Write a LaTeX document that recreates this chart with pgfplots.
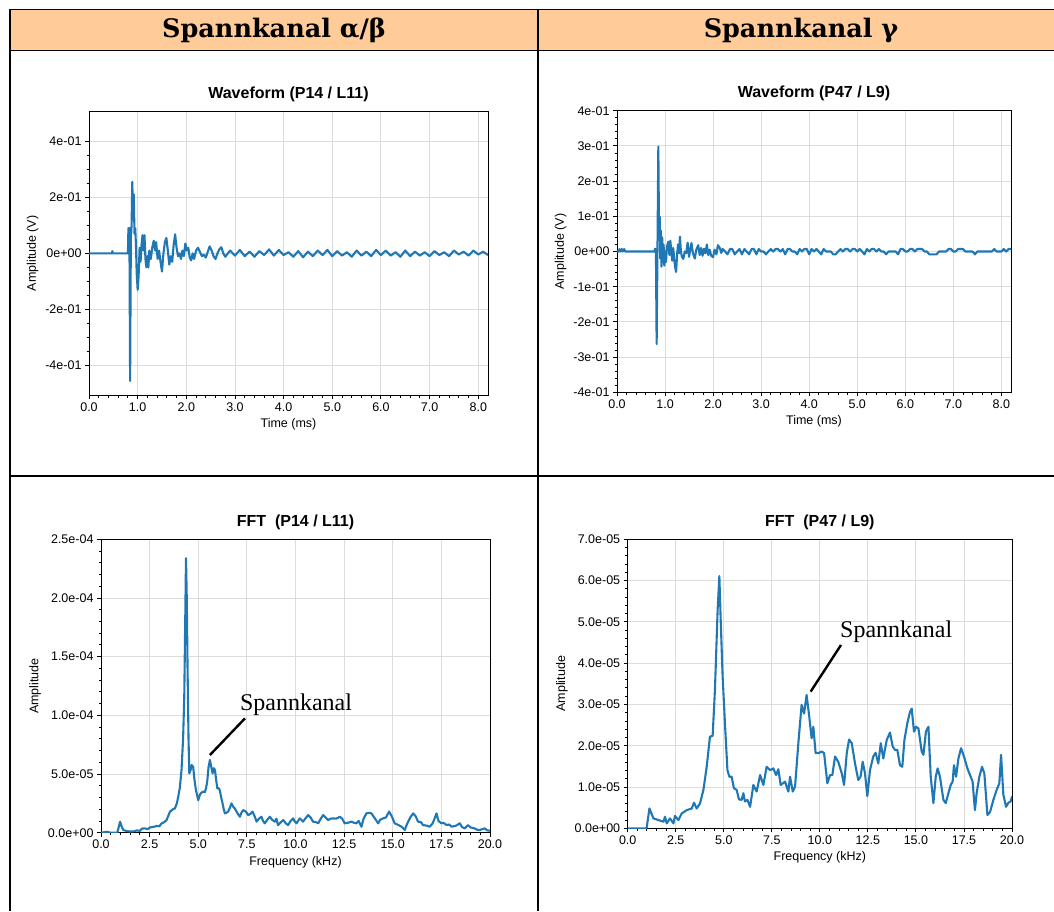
\documentclass[border=0pt]{standalone}
\usepackage{fontspec}
\setmainfont{Liberation Sans}
\newfontfamily\headfont{DejaVu Serif}
\newfontfamily\notefont{Liberation Serif}
\usepackage{pgfplots}
\pgfplotsset{compat=1.18}

\definecolor{mplblue}{HTML}{1F77B4}
\definecolor{headbg}{HTML}{FFCC99}
\definecolor{gridgray}{HTML}{DCDCDC}

\tikzset{
  callout/.style={anchor=west, inner sep=0pt, font=\notefont\fontsize{24}{28}\selectfont},
  trace/.style={mplblue, line width=2.1pt, line join=round, mark=none},
  pointer/.style={black, line width=2.4pt},
}

\pgfplotsset{
  panel/.style={
    scale only axis,
    axis line style={black, line width=0.9pt},
    tick align=outside,
    tick pos=left,
    major tick length=4pt,
    minor tick length=2.5pt,
    tick style={black, line width=0.9pt},
    grid=major,
    major grid style={gridgray, line width=0.9pt},
    tick label style={font=\fontsize{12.5}{14}\selectfont},
    label style={font=\fontsize{12.5}{14}\selectfont},
    title style={font=\bfseries\fontsize{16}{19}\selectfont},
  },
  wave/.style={
    panel,
    xmin=0, xmax=8.2,
    xtick={0,1,...,8},
    xticklabels={0.0,1.0,2.0,3.0,4.0,5.0,6.0,7.0,8.0},
    minor x tick num=4,
    xlabel={Time (ms)},
    ylabel={Amplitude (V)},
  },
  spec/.style={
    panel,
    xmin=0, xmax=20,
    xtick={0,2.5,...,20},
    xticklabels={0.0,2.5,5.0,7.5,10.0,12.5,15.0,17.5,20.0},
    minor x tick num=4,
    xlabel={Frequency (kHz)},
    ylabel={Amplitude},
    ymin=0,
  },
}

% waveform, channel alpha/beta (time in ms, amplitude in V)
\pgfplotstableread{
t v
0.00 0
0.47 0
0.48 0.008
0.49 0
0.80 0
0.81 0.09
0.82 0.08
0.83 0.09
0.845 -0.455
0.86 0.05
0.875 0.10
0.89 0.255
0.905 0.12
0.92 0.21
0.935 0.07
0.95 0.09
0.965 0.03
0.98 -0.07
1.00 -0.13
1.02 -0.08
1.04 0.02
1.06 -0.03
1.08 0.03
1.10 0.065
1.12 0.01
1.14 0.065
1.16 -0.02
1.18 -0.05
1.20 -0.01
1.22 -0.05
1.24 0.01
1.27 -0.02
1.30 0.02
1.33 0.045
1.36 0.01
1.38 0.04
1.41 -0.02
1.44 0.01
1.47 -0.03
1.50 -0.065
1.53 0.00
1.56 0.04
1.59 0.055
1.62 0.01
1.65 -0.04
1.68 -0.01
1.71 -0.03
1.74 0.03
1.77 0.068
1.80 0.02
1.83 -0.01
1.86 0.00
1.89 -0.02
1.92 0.01
1.95 -0.01
1.98 0.035
2.01 0.01
2.04 0.02
2.07 -0.015
2.10 -0.025
2.13 0.00
2.16 -0.02
2.20 0.01
2.24 0.02
2.28 0.005
2.32 -0.01
2.36 -0.005
2.40 -0.015
2.44 0.005
2.48 0.025
2.52 0.01
2.56 -0.01
2.60 -0.02
2.64 0.00
2.68 0.015
2.72 0.022
2.76 0.00
2.80 -0.012
2.90 0.010
3.00 -0.008
3.10 0.012
3.20 -0.010
3.30 0.006
3.40 -0.012
3.50 0.008
3.60 -0.006
3.70 0.014
3.80 -0.008
3.90 0.012
4.00 -0.006
4.10 0.004
4.20 -0.012
4.30 0.008
4.40 -0.014
4.50 0.006
4.60 -0.010
4.70 0.010
4.80 -0.006
4.90 0.012
5.00 -0.010
5.10 0.008
5.20 -0.008
5.30 0.004
5.40 -0.012
5.50 0.010
5.60 -0.008
5.70 0.006
5.80 -0.010
5.90 0.012
6.00 -0.006
6.10 0.010
6.20 -0.008
6.30 0.004
6.40 -0.012
6.50 0.010
6.60 -0.010
6.70 0.006
6.80 -0.008
6.90 0.004
7.00 -0.010
7.10 0.008
7.20 -0.006
7.30 0.004
7.40 -0.010
7.50 0.010
7.60 -0.004
7.70 0.006
7.80 -0.008
7.90 0.010
8.00 -0.004
8.10 0.006
8.20 -0.006
}\waveA

% waveform, channel gamma
\pgfplotstableread{
t v
0.00 0
0.04 0
0.05 0.007
0.07 0
0.10 0.007
0.12 0
0.15 0.007
0.17 0
0.78 0
0.79 0.008
0.81 0
0.825 -0.263
0.845 0.05
0.86 0.298
0.875 0.05
0.89 0.099
0.90 -0.02
0.91 0.06
0.925 -0.043
0.94 0.04
0.955 -0.03
0.97 0.02
0.985 -0.04
1.00 0.00
1.02 -0.03
1.04 0.015
1.07 0.028
1.09 -0.01
1.11 0.031
1.13 0.00
1.15 -0.026
1.17 0.01
1.19 -0.02
1.21 -0.045
1.23 -0.058
1.25 -0.01
1.27 0.02
1.29 -0.005
1.31 0.042
1.33 0.00
1.35 -0.015
1.38 -0.021
1.41 0.00
1.44 -0.005
1.47 0.025
1.50 -0.015
1.53 0.01
1.55 0.024
1.58 -0.005
1.62 -0.02
1.65 0.005
1.69 0.018
1.72 -0.01
1.75 0.01
1.78 -0.012
1.81 0.008
1.84 -0.005
1.87 0.020
1.90 -0.01
1.93 0.005
1.96 -0.012
2.00 -0.016
2.03 0.005
2.07 -0.008
2.10 0.018
2.14 0.010
2.17 -0.004
2.20 0.007
2.25 0
2.30 -0.008
2.35 0.007
2.40 0.007
2.45 -0.008
2.50 0
2.55 0.007
2.60 -0.008
2.65 0.007
2.70 0
2.75 -0.008
2.80 0.007
2.85 0.007
2.90 -0.008
2.95 0.007
3.00 0
3.05 0
3.10 -0.008
3.15 0
3.20 0.007
3.25 0
3.30 0.007
3.35 0.007
3.40 0
3.45 0.007
3.50 -0.008
3.55 0.007
3.60 0.007
3.65 0
3.70 0
3.75 -0.008
3.80 0.007
3.85 0
3.90 0.007
3.95 0.007
4.00 -0.008
4.05 0.007
4.10 0
4.15 0.007
4.20 0
4.25 -0.008
4.30 0.007
4.35 0
4.45 0
4.50 -0.008
4.55 -0.008
4.60 0
4.65 0.007
4.70 0
4.75 0.007
4.80 0.007
4.85 0
4.90 0.007
4.95 0.007
5.00 0
5.05 0.007
5.10 0
5.15 -0.008
5.20 0.007
5.25 0
5.30 0.007
5.35 0.007
5.40 0
5.45 0.007
5.50 0
5.55 0
5.60 -0.008
5.65 0
5.80 0
5.85 -0.008
5.90 0.007
5.95 0.007
6.00 0
6.05 0
6.10 0.007
6.15 0.007
6.20 0
6.25 0.007
6.30 0.007
6.35 0.007
6.40 0
6.45 0
6.50 -0.008
6.55 -0.008
6.60 -0.008
6.65 -0.008
6.70 0
6.85 0
6.90 0.007
6.95 0.007
7.00 0
7.05 0
7.10 0.007
7.15 0.007
7.20 0.007
7.25 0
7.40 0
7.45 -0.008
7.50 0
7.80 0
7.85 0.007
7.90 0
8.00 0
8.05 0.007
8.10 0
8.15 0.007
8.20 0.007
}\waveB

% spectrum, channel alpha/beta (frequency in kHz, amplitude in units of 1e-5)
\pgfplotstableread{
f a
0.0 0.0
0.3 0.08
0.5 0.0
0.84 0.0
0.98 0.94
1.08 0.45
1.15 0.23
1.3 0.15
1.49 0.1
1.7 0.12
1.85 0.2
2.0 0.15
2.1 0.35
2.26 0.37
2.4 0.3
2.52 0.45
2.7 0.5
2.86 0.57
3.0 0.55
3.12 0.8
3.25 0.9
3.37 1.08
3.45 1.4
3.55 1.8
3.7 2.0
3.8 2.07
3.9 2.5
3.97 3.07
4.05 3.8
4.14 5.34
4.22 8.0
4.28 11.5
4.33 18.0
4.37 23.4
4.41 20.0
4.45 14.0
4.50 8.0
4.54 5.06
4.6 5.3
4.66 5.77
4.74 5.6
4.8 4.6
4.88 3.64
4.94 3.2
5.0 2.78
5.06 3.1
5.12 3.35
5.25 3.5
5.34 3.45
5.4 3.8
5.46 4.35
5.53 5.6
5.6 6.2
5.67 5.6
5.74 5.06
5.8 5.5
5.86 5.34
5.92 4.5
5.98 3.78
6.05 3.8
6.11 3.6
6.18 3.0
6.25 2.5
6.31 2.0
6.37 1.65
6.45 1.7
6.54 1.8
6.62 2.1
6.71 2.5
6.8 2.2
6.88 2.07
7.0 1.7
7.14 1.36
7.22 1.7
7.31 1.93
7.45 1.8
7.57 1.5
7.68 1.6
7.79 1.8
7.9 1.4
8.0 0.94
8.12 1.2
8.25 1.36
8.33 1.0
8.42 0.8
8.55 1.1
8.68 1.36
8.8 1.1
8.94 0.94
9.02 1.2
9.1 0.65
9.25 0.9
9.37 1.08
9.5 0.8
9.62 0.65
9.75 1.0
9.88 1.22
9.95 1.0
10.05 0.8
10.22 1.22
10.3 1.1
10.39 0.94
10.5 1.2
10.65 1.5
10.78 1.3
10.9 0.94
11.05 0.9
11.17 0.8
11.3 1.2
11.42 1.5
11.55 1.3
11.68 1.08
11.8 1.2
11.93 1.22
12.1 1.2
12.28 1.36
12.4 1.2
12.53 0.8
12.7 0.85
12.88 0.94
13.0 0.85
13.13 0.8
13.25 1.0
13.39 0.51
13.5 1.2
13.65 1.65
13.78 1.7
13.9 1.65
14.05 1.3
14.25 0.8
14.35 1.1
14.5 1.22
14.65 1.3
14.81 1.8
14.95 1.4
15.1 0.8
15.3 0.65
15.45 0.51
15.62 0.23
15.7 0.6
15.79 0.94
15.9 1.3
16.05 1.65
16.18 1.4
16.3 0.94
16.45 0.9
16.56 0.65
16.75 0.6
16.9 0.51
17.05 0.8
17.15 1.2
17.25 1.65
17.35 1.0
17.5 0.8
17.6 0.85
17.77 0.65
17.9 0.7
18.03 0.51
18.25 0.6
18.45 0.8
18.55 0.5
18.7 0.37
18.87 0.65
19.0 0.45
19.2 0.37
19.35 0.25
19.47 0.23
19.6 0.3
19.73 0.37
19.85 0.2
20.0 0.17
}\specA

% spectrum, channel gamma (amplitude in units of 1e-5)
\pgfplotstableread{
f a
0.0 0.0
0.95 0.0
0.99 0.02
1.13 0.48
1.34 0.24
1.6 0.2
1.86 0.16
1.94 0.28
2.03 0.12
2.2 0.24
2.38 0.12
2.46 0.3
2.64 0.2
2.81 0.36
3.07 0.44
3.33 0.48
3.45 0.62
3.59 0.48
3.76 0.6
3.94 0.93
4.11 1.49
4.28 2.22
4.42 2.24
4.54 3.35
4.68 5.29
4.77 6.11
4.84 5.04
4.94 3.67
5.07 2.46
5.19 1.41
5.29 1.25
5.41 1.25
5.53 0.97
5.67 0.93
5.79 0.7
5.93 0.69
6.02 0.85
6.1 0.65
6.23 0.69
6.37 0.52
6.54 1.05
6.71 0.89
6.89 1.29
7.06 1.05
7.23 1.49
7.41 1.41
7.58 1.45
7.72 1.29
7.84 1.43
7.96 1.05
8.19 1.13
8.36 0.89
8.45 1.25
8.59 0.89
8.71 1.01
8.88 2.06
9.05 2.99
9.18 2.78
9.31 3.23
9.45 2.70
9.57 2.18
9.66 2.46
9.78 1.82
9.92 1.82
10.1 1.86
10.22 1.82
10.39 1.09
10.53 1.29
10.65 1.29
10.79 1.74
10.96 1.61
11.14 1.33
11.26 1.05
11.4 1.82
11.52 2.15
11.66 2.06
11.83 1.57
12.0 1.17
12.12 1.25
12.23 1.61
12.35 1.33
12.47 0.78
12.61 1.41
12.78 1.74
12.9 1.83
13.04 1.57
13.17 2.06
13.3 1.69
13.48 2.14
13.65 2.32
13.79 1.98
13.91 1.9
14.03 1.9
14.17 1.53
14.29 1.49
14.4 2.14
14.55 2.54
14.69 2.82
14.78 2.9
14.9 2.34
15.0 2.46
15.13 2.42
15.3 1.86
15.39 1.78
15.52 2.34
15.65 2.46
15.77 1.25
15.91 0.61
16.03 1.25
16.13 1.45
16.25 1.25
16.43 0.69
16.55 0.61
16.69 0.85
16.81 1.05
16.91 1.13
16.98 1.53
17.09 1.25
17.21 1.69
17.35 1.94
17.5 1.74
17.68 1.45
17.85 1.25
17.95 1.13
18.07 0.44
18.16 0.85
18.3 1.25
18.44 1.49
18.56 1.33
18.72 0.32
18.86 0.4
19.03 0.69
19.2 0.93
19.34 1.09
19.43 1.78
19.55 0.81
19.69 0.52
19.81 0.62
19.93 0.65
20.0 0.77
}\specB

\begin{document}
\begin{tikzpicture}
\useasboundingbox (0pt,0pt) rectangle (1054pt,-911pt);

% table frame and header row
\fill[headbg] (10pt,-9.5pt) rectangle (1054pt,-50pt);
\draw[line width=1.8pt] (9.2pt,-9.5pt) -- (1054pt,-9.5pt);
\draw[line width=1pt] (10pt,-50pt) -- (1054pt,-50pt);
\draw[line width=2pt] (10pt,-476pt) -- (1054pt,-476pt);
\draw[line width=1.5pt] (10pt,-8.6pt) -- (10pt,-911pt);
\draw[line width=1.5pt] (538pt,-8.6pt) -- (538pt,-911pt);
\node[font=\headfont\bfseries\fontsize{25.5}{29}\selectfont] at (274pt,-30.5pt) {Spannkanal α/β};
\node[font=\headfont\bfseries\fontsize{25.5}{29}\selectfont] at (801pt,-30.5pt) {Spannkanal γ};

% top left: waveform
\begin{axis}[wave,
  at={(89pt,-395pt)}, anchor=south west,
  width=399pt, height=283.3pt,
  ymin=-0.505, ymax=0.505,
  ytick={-0.4,-0.2,0,0.2,0.4},
  yticklabels={-4e-01,-2e-01,0e+00,2e-01,4e-01},
  minor y tick num=3,
  title={Waveform (P14 / L11)}]
\addplot[trace] table[x=t, y=v] {\waveA};
\end{axis}

% top right: waveform
\begin{axis}[wave,
  at={(617pt,-392.3pt)}, anchor=south west,
  width=394pt, height=281.6pt,
  ymin=-0.4, ymax=0.4,
  ytick={-0.4,-0.3,...,0.4},
  yticklabels={-4e-01,-3e-01,-2e-01,-1e-01,0e+00,1e-01,2e-01,3e-01,4e-01},
  minor y tick num=4,
  title={Waveform (P47 / L9)}]
\addplot[trace] table[x=t, y=v] {\waveB};
\end{axis}

% bottom left: spectrum
\begin{axis}[spec,
  at={(101pt,-832.7pt)}, anchor=south west,
  width=389pt, height=293.4pt,
  ymax=25,
  ytick={0,5,...,25},
  yticklabels={0.0e+00,5.0e-05,1.0e-04,1.5e-04,2.0e-04,2.5e-04},
  minor y tick num=4,
  title={FFT~~(P14 / L11)}]
\addplot[trace] table[x=f, y=a] {\specA};
\draw[pointer] (axis cs:5.6,6.62) -- (axis cs:7.4,9.74);
\node[callout] at (axis cs:7.14,10.9) {Spannkanal};
\end{axis}

% bottom right: spectrum
\begin{axis}[spec,
  at={(627.7pt,-828.3pt)}, anchor=south west,
  width=384.3pt, height=289pt,
  ymax=7,
  ytick={0,1,...,7},
  yticklabels={0.0e+00,1.0e-05,2.0e-05,3.0e-05,4.0e-05,5.0e-05,6.0e-05,7.0e-05},
  minor y tick num=4,
  title={FFT~~(P47 / L9)}]
\addplot[trace] table[x=f, y=a] {\specB};
\draw[pointer] (axis cs:9.52,3.31) -- (axis cs:11.1,4.44);
\node[callout] at (axis cs:11.05,4.76) {Spannkanal};
\end{axis}
\end{tikzpicture}
\end{document}
